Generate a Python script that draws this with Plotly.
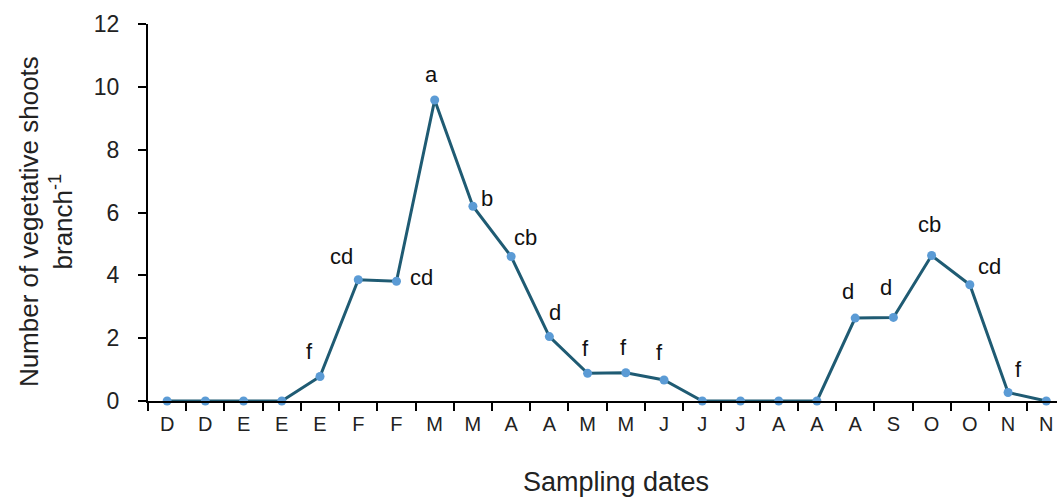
import plotly.graph_objects as go

dates = ["D", "D", "E", "E", "E", "F", "F", "M", "M", "A", "A", "M", "M", "J",
         "J", "J", "A", "A", "A", "S", "O", "O", "N", "N"]
shoots = [0, 0, 0, 0, 0.78, 3.86, 3.81, 9.58, 6.2, 4.6, 2.05, 0.88, 0.9, 0.67,
          0, 0, 0, 0, 2.64, 2.66, 4.63, 3.7, 0.27, 0]
letters = ["", "", "", "", "f", "cd", "cd", "a", "b", "cb", "d", "f", "f", "f",
           "", "", "", "", "d", "d", "cb", "cd", "f", ""]
# pixel offsets of the letters relative to their point (screen dx, dy)
label_dx = [0, 0, 0, 0, -11, -17, 25, -3, 14, 14, 6, -2, -2, -5,
            0, 0, 0, 0, -7, -7, -2, 20, 10, 0]
label_dy = [0, 0, 0, 0, -25, -23, -4, -26, -8, -19, -24, -25, -25, -27,
            0, 0, 0, 0, -27, -30, -31, -18, -23, 0]

FONT = "Liberation Sans, Arial, sans-serif"
xs = list(range(len(dates)))

fig = go.Figure()
fig.add_trace(go.Scatter(
    x=xs, y=shoots, mode="lines+markers",
    line=dict(color="#1f5b73", width=3),
    marker=dict(color="#5b9bd5", size=9, line=dict(width=0)),
    cliponaxis=False, showlegend=False,
))

annotations = []
for i, t in enumerate(letters):
    if t:
        annotations.append(dict(
            x=xs[i], y=shoots[i], xref="x", yref="y", text=t, showarrow=False,
            xshift=label_dx[i], yshift=-label_dy[i],
            font=dict(family=FONT, size=22, color="#111111"),
        ))

annotations.append(dict(
    x=-0.112, y=0.475, xref="paper", yref="paper",
    text="Number of vegetative shoots<br>branch<sup>-1</sup>",
    textangle=-90, showarrow=False, xanchor="center", yanchor="middle",
    font=dict(family=FONT, size=26, color="#222222"),
))
annotations.append(dict(
    x=0.515, y=-0.215, xref="paper", yref="paper", text="Sampling dates",
    showarrow=False, xanchor="center", yanchor="middle",
    font=dict(family=FONT, size=27, color="#222222"),
))

fig.update_layout(
    width=1057, height=498,
    margin=dict(l=148, r=0, t=24, b=97),
    paper_bgcolor="white", plot_bgcolor="white",
    annotations=annotations,
    xaxis=dict(
        range=[-0.5, 23.28], tickmode="array", tickvals=xs, ticktext=dates,
        ticks="", showgrid=False, zeroline=False,
        showline=True, linecolor="black", linewidth=2,
        tickfont=dict(family=FONT, size=20, color="#222222"),
        ticklabelstandoff=4,
        minor=dict(tickmode="linear", tick0=-0.5, dtick=1, ticks="outside",
                   ticklen=8, tickwidth=2, tickcolor="black", showgrid=False),
    ),
    yaxis=dict(
        range=[0, 12], tickmode="linear", tick0=0, dtick=2,
        ticks="outside", ticklen=8, tickwidth=2, tickcolor="black",
        showgrid=False, zeroline=False,
        showline=True, linecolor="black", linewidth=2,
        tickfont=dict(family=FONT, size=23, color="#222222"),
        ticklabelstandoff=14,
    ),
)

fig.write_html("out.html")
